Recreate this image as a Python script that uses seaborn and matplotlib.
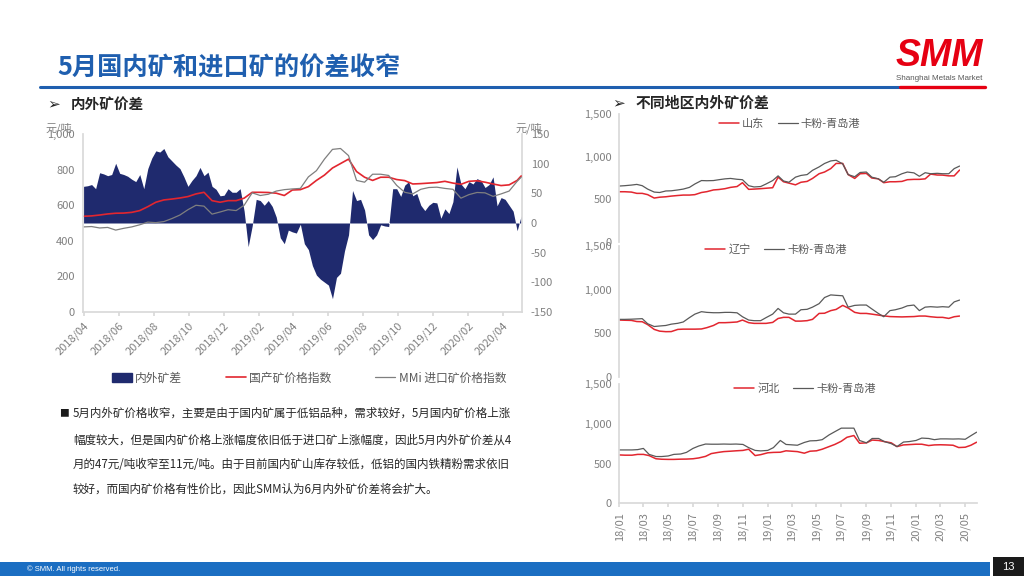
import pandas as pd
import matplotlib
matplotlib.use('Agg')
import matplotlib.pyplot as plt
import matplotlib.dates as mdates
from matplotlib.patches import Patch, Rectangle
from matplotlib.lines import Line2D
from matplotlib.ticker import FuncFormatter
import seaborn as sns

sns.set_theme(style='white')
plt.rcParams['font.family'] = ['Noto Sans CJK SC', 'DejaVu Sans']
plt.rcParams['axes.unicode_minus'] = False

# ---- left chart: weekly spread (right axis) ----
spread_dates = pd.date_range('2018-04-01', periods=110, freq='7D')
spread = [62, 63, 65, 58, 85, 83, 80, 82, 101, 84,
          82, 79, 74, 70, 82, 58, 92, 110, 122, 120,
          126, 112, 105, 98, 92, 78, 62, 72, 80, 94,
          80, 86, 62, 57, 46, 47, 58, 52, 52, 58,
          20, -40, -5, 40, 38, 30, 38, 28, 10, -25,
          -35, -12, -15, -17, -2, -35, -45, -72, -88, -95,
          -100, -105, -128, -92, -85, -47, -20, 55, 38, 40,
          22, -20, -28, -20, -3, -5, -6, 58, 58, 45,
          64, 70, 46, 50, 30, 21, 30, 35, 34, 8,
          24, 16, 36, 95, 66, 58, 70, 66, 75, 72,
          60, 65, 78, 29, 43, 40, 30, 20, -13, 12]

# price indices (left axis), every second week
index_dates = spread_dates[list(range(0, 109, 2)) + [109]]
domestic_idx = [538, 540, 545, 551, 555, 556, 560, 570, 592, 617,
                630, 635, 641, 649, 664, 673, 626, 617, 626,
                626, 640, 673, 673, 672, 668, 655, 686, 688, 705,
                740, 770, 810, 835, 860, 790, 758, 740,
                758, 758, 745, 739, 720, 722, 725, 728, 735, 725,
                718, 735, 738, 730, 720, 711, 715, 740, 765]
import_idx = [478, 480, 472, 475, 460, 470, 478, 490, 505, 502,
              508, 525, 545, 575, 600, 595, 550, 562, 575,
              570, 600, 670, 655, 662, 680, 688, 692, 695, 760,
              795, 860, 915, 920, 880, 740, 730, 775,
              775, 768, 712, 673, 664, 690, 700, 702, 695, 690,
              640, 660, 672, 670, 650, 664, 680, 735, 758]

# ---- right charts: regional prices, half-monthly ----
region_dates = pd.date_range('2018-01-01', '2020-05-15', freq='SMS').append(
    pd.DatetimeIndex(['2020-05-29']))
shandong = [589, 589, 585, 570, 570, 555, 515, 525, 530, 538,
            545, 550, 550, 555, 580, 590, 610, 615, 625, 640,
            650, 695, 617, 620, 625, 630, 636, 760, 706, 690,
            670, 700, 710, 745, 800, 820, 860, 921, 921, 790,
            745, 800, 804, 750, 740, 695, 706, 706, 710, 730,
            734, 734, 740, 796, 785, 784, 775, 775, 843]
kafen_1 = [656, 660, 667, 675, 660, 620, 585, 580, 598, 600,
           610, 620, 640, 680, 720, 718, 720, 730, 740, 745,
           735, 730, 660, 645, 650, 680, 720, 775, 715, 700,
           760, 780, 790, 840, 880, 920, 950, 958, 915, 790,
           765, 815, 820, 760, 740, 700, 760, 765, 800, 820,
           810, 770, 812, 800, 805, 800, 800, 860, 890]
liaoning = [652, 650, 648, 635, 633, 600, 545, 525, 519, 520,
            545, 548, 548, 548, 550, 565, 590, 622, 622, 625,
            630, 652, 622, 614, 614, 614, 625, 670, 683, 683,
            640, 640, 645, 660, 728, 730, 760, 774, 820, 790,
            740, 728, 728, 720, 709, 700, 692, 690, 688, 690,
            692, 698, 698, 690, 683, 683, 671, 690, 698]
kafen_2 = [660, 660, 662, 665, 668, 610, 578, 584, 590, 605,
           615, 630, 680, 720, 748, 740, 736, 736, 740, 740,
           735, 690, 652, 645, 645, 680, 720, 785, 735, 720,
           720, 770, 775, 800, 840, 910, 940, 935, 930, 800,
           820, 824, 824, 780, 728, 690, 760, 770, 790, 815,
           824, 760, 800, 805, 800, 805, 800, 860, 881]
hebei = [608, 605, 605, 615, 615, 600, 560, 554, 552, 552,
         555, 556, 560, 570, 590, 625, 640, 650, 655, 660,
         665, 680, 600, 612, 635, 640, 642, 660, 655, 650,
         630, 655, 660, 680, 713, 740, 780, 830, 852, 755,
         760, 795, 790, 776, 760, 713, 734, 738, 743, 743,
         726, 734, 736, 734, 730, 701, 705, 730, 768]
kafen_3 = [671, 671, 671, 675, 690, 615, 588, 588, 595, 615,
           620, 640, 690, 720, 745, 743, 743, 745, 743, 745,
           740, 700, 665, 659, 665, 700, 790, 740, 735, 730,
           765, 785, 788, 800, 860, 900, 945, 945, 945, 790,
           760, 815, 815, 776, 750, 713, 770, 776, 790, 820,
           815, 800, 810, 810, 808, 810, 805, 850, 894]

NAVY = '#1F2A6E'
RED = '#E2262F'
GRAY_L = '#7F7F7F'
GRAY_D = '#595959'
TICK = '#808080'
SPINE = '#D9D9D9'
BLUE = '#1F5FAF'
LOGO_RED = '#E60012'

W, H = 1024, 576


def fx(x):
    return x / W


def fy(y):
    return 1 - y / H


comma = FuncFormatter(lambda v, p: f'{v:,.0f}')

fig = plt.figure(figsize=(10.24, 5.76), dpi=100)
fig.patch.set_facecolor('white')

# ---- slide header ----
fig.text(fx(57), fy(68), '5月国内矿和进口矿的价差收窄', fontsize=18.2, color=BLUE,
         fontweight='bold', ha='left', va='center')
fig.add_artist(Line2D([fx(40), fx(900)], [fy(87), fy(87)], color=BLUE, lw=2.2))
fig.add_artist(Line2D([fx(900), fx(985)], [fy(87), fy(87)], color=LOGO_RED, lw=2.4))
fig.text(fx(939), fy(56), 'SMM', fontsize=27, color=LOGO_RED, fontweight='bold',
         style='italic', family='Liberation Sans', ha='center', va='center')
fig.text(fx(939), fy(79), 'Shanghai Metals Market', fontsize=5.8, color=GRAY_D,
         family='Liberation Sans', ha='center', va='center')

# section headers
fig.text(fx(47), fy(104), '➢', fontsize=11, fontweight='bold', family='DejaVu Sans',
         ha='left', va='center')
fig.text(fx(71), fy(104), '内外矿价差', fontsize=10.5, fontweight='bold', ha='left', va='center')
fig.text(fx(612), fy(103), '➢', fontsize=11, fontweight='bold', family='DejaVu Sans',
         ha='left', va='center')
fig.text(fx(636), fy(103), '不同地区内外矿价差', fontsize=10.7, fontweight='bold',
         ha='left', va='center')

# ---- left chart ----
ax = fig.add_axes([fx(83), fy(311.7), (522.3 - 83) / W, 177.4 / H])
ax2 = ax.twinx()
ax2.fill_between(spread_dates, 0, spread, color=NAVY, lw=0)
ax2.set_ylim(-150, 150)
ax2.set_yticks(range(-150, 151, 50))

sns.lineplot(x=index_dates, y=domestic_idx, ax=ax, color=RED, lw=1.2)
sns.lineplot(x=index_dates, y=import_idx, ax=ax, color=GRAY_L, lw=0.9)
ax.set_ylim(0, 1000)
ax.set_yticks(range(0, 1001, 200))
ax.yaxis.set_major_formatter(comma)
ax.set_zorder(ax2.get_zorder() + 1)
ax.patch.set_visible(False)
ax.set_xlim(pd.Timestamp('2018-03-31'), pd.Timestamp('2020-05-05'))
ax.xaxis.set_major_locator(mdates.MonthLocator(bymonth=[2, 4, 6, 8, 10, 12]))
ax.xaxis.set_major_formatter(mdates.DateFormatter('%Y/%m'))
ax.set_xlabel('')
ax.set_ylabel('')
for lbl in ax.get_xticklabels():
    lbl.set_rotation(45)
    lbl.set_ha('right')
    lbl.set_rotation_mode('anchor')
ax.tick_params(axis='x', colors=SPINE, labelcolor=TICK, labelsize=8, length=3,
               direction='out', bottom=True, pad=3)
ax.tick_params(axis='y', labelcolor=TICK, labelsize=8, length=0, pad=6)
ax2.tick_params(axis='y', labelcolor=TICK, labelsize=8, length=0, pad=6)
for s in ['top', 'right']:
    ax.spines[s].set_visible(False)
for s in ['left', 'bottom']:
    ax.spines[s].set_color(SPINE)
for s in ['top', 'left', 'bottom']:
    ax2.spines[s].set_visible(False)
ax2.spines['right'].set_color(SPINE)

fig.text(fx(45), fy(128), '元/吨', fontsize=8, color=TICK, style='italic', ha='left', va='center')
fig.text(fx(515), fy(128), '元/吨', fontsize=8, color=TICK, style='italic', ha='left', va='center')

fig.legend(handles=[Patch(color=NAVY), Line2D([], [], color=RED, lw=1.2),
                    Line2D([], [], color=GRAY_L, lw=0.9)],
           labels=['内外矿差', '国产矿价格指数', 'MMi 进口矿价格指数'],
           loc='center', bbox_to_anchor=(fx(309), fy(378)), ncol=3, frameon=False,
           fontsize=8.5, columnspacing=3.7, handlelength=1.7, handletextpad=0.3,
           labelcolor=GRAY_D)

# ---- commentary ----
notes = ['5月内外矿价格收窄，主要是由于国内矿属于低铝品种，需求较好，5月国内矿价格上涨',
         '幅度较大，但是国内矿价格上涨幅度依旧低于进口矿上涨幅度，因此5月内外矿价差从4',
         '月的47元/吨收窄至11元/吨。由于目前国内矿山库存较低，低铝的国内铁精粉需求依旧',
         '较好，而国内矿价格有性价比，因此SMM认为6月内外矿价差将会扩大。']
note_y = [413, 440, 465, 489]
fig.text(fx(59), fy(413), '■', fontsize=7, color='#1A1A1A', ha='left', va='center')
for t, y in zip(notes, note_y):
    fig.text(fx(73), fy(y), t, fontsize=8.3, color='#262626', ha='left', va='center')

# ---- right charts ----
panels = [
    ([fx(619), fy(242), 341 / W, 128 / H], shandong, kafen_1, '山东', (0.5, 0.922)),
    ([fx(619), fy(377), 341 / W, 131 / H], liaoning, kafen_2, '辽宁', (0.46, 0.97)),
    ([fx(619), fy(503.3), 358 / W, 119.3 / H], hebei, kafen_3, '河北', (0.52, 0.958)),
]
for i, (pos, reg, kf, name, lpos) in enumerate(panels):
    p = fig.add_axes(pos)
    p.patch.set_visible(False)
    sns.lineplot(x=region_dates, y=reg, ax=p, color=RED, lw=1.1, label=name)
    sns.lineplot(x=region_dates, y=kf, ax=p, color=GRAY_D, lw=0.9, label='卡粉-青岛港')
    p.set_ylim(0, 1500)
    p.set_yticks([0, 500, 1000, 1500])
    p.yaxis.set_major_formatter(comma)
    p.set_xlim(pd.Timestamp('2017-12-31'), pd.Timestamp('2020-05-30'))
    p.set_xlabel('')
    p.set_ylabel('')
    p.tick_params(axis='y', labelcolor=TICK, labelsize=8, length=0, pad=5)
    for s in ['top', 'right']:
        p.spines[s].set_visible(False)
    p.spines['left'].set_color(SPINE)
    p.legend(loc='center', bbox_to_anchor=lpos, ncol=2, frameon=False, fontsize=8,
             handlelength=1.8, handletextpad=0.3, columnspacing=1.2, labelcolor=GRAY_D)
    if i < 2:
        p.spines['bottom'].set_visible(False)
        p.tick_params(axis='x', bottom=False, labelbottom=False)
    else:
        p.spines['bottom'].set_color(SPINE)
        p.xaxis.set_major_locator(mdates.MonthLocator(bymonth=[1, 3, 5, 7, 9, 11]))
        p.xaxis.set_major_formatter(mdates.DateFormatter('%y/%m'))
        p.tick_params(axis='x', colors=SPINE, labelcolor=TICK, labelsize=8, length=3,
                      direction='out', bottom=True, labelrotation=90, pad=3)

# ---- footer ----
fig.add_artist(Rectangle((0, 0), fx(990), 14 / H, transform=fig.transFigure,
                         color='#1B6EC2', lw=0))
fig.add_artist(Rectangle((fx(993), 0), 31 / W, 19 / H, transform=fig.transFigure,
                         color='#1A1A1A', lw=0))
fig.text(fx(27), fy(569), '© SMM. All rights reserved.', fontsize=5.5, color='white',
         family='Liberation Sans', ha='left', va='center')
fig.text(fx(1008), fy(567), '13', fontsize=8, color='white', family='Liberation Sans',
         ha='center', va='center')

fig.savefig('out.png', dpi=100)
